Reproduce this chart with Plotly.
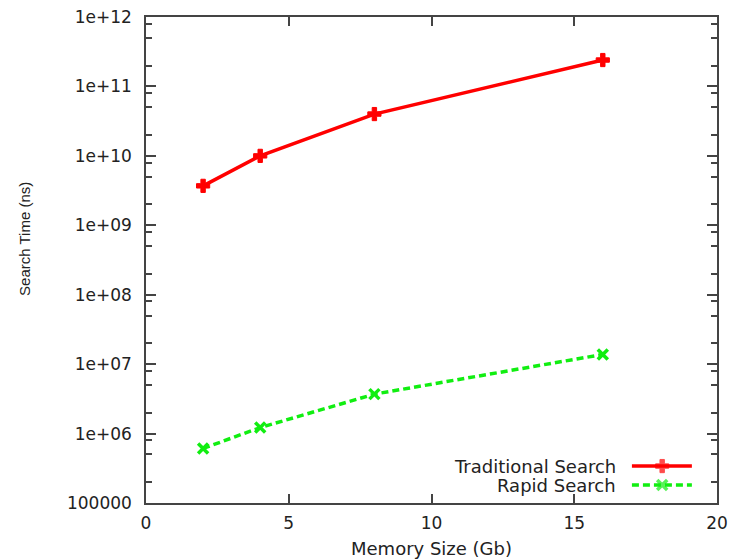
import plotly.graph_objects as go

# Memory size (Gb) vs. measured search time (ns)
memory_gb = [2, 4, 8, 16]
traditional_ns = [3.7e9, 1.0e10, 4.0e10, 2.4e11]
rapid_ns = [6.1e5, 1.22e6, 3.7e6, 1.38e7]

series_names = ["Traditional Search", "Rapid Search"]
x_ticks = [0, 5, 10, 15, 20]
y_ticks = [1e5, 1e6, 1e7, 1e8, 1e9, 1e10, 1e11, 1e12]
y_tick_text = ["100000", "1e+06", "1e+07", "1e+08", "1e+09", "1e+10", "1e+11", "1e+12"]
y_minor = [m * 10 ** e for e in range(5, 12) for m in (2, 5, 8)]

RED = "#ff0000"
GREEN = "#11ee11"
TXT = "#222222"
AX = "#444444"
FONT = "DejaVu Sans"

fig = go.Figure()

fig.add_trace(go.Scatter(
    x=memory_gb, y=traditional_ns, mode="lines+markers", name=series_names[0],
    line=dict(color=RED, width=3.5),
    marker=dict(symbol="cross", size=11, color=RED, line=dict(color=RED, width=1)),
    showlegend=False,
))
fig.add_trace(go.Scatter(
    x=memory_gb, y=rapid_ns, mode="lines+markers", name=series_names[1],
    line=dict(color=GREEN, width=3.5, dash="7px,4px"),
    marker=dict(symbol="x-thin", size=10, line=dict(color=GREEN, width=3.5)),
    showlegend=False,
))

# Key samples, drawn on an overlay axis spanning the plot area
key_x = [0.851, 0.904, 0.956]
key_y = [0.076, 0.037]
fig.add_trace(go.Scatter(
    x=key_x, y=[key_y[0]] * 3, xaxis="x2", yaxis="y2", mode="lines+markers",
    line=dict(color=RED, width=3.5),
    marker=dict(symbol="cross", size=[0, 11, 0], color=RED, line=dict(color=RED, width=1)),
    showlegend=False, hoverinfo="skip",
))
fig.add_trace(go.Scatter(
    x=key_x, y=[key_y[1]] * 3, xaxis="x2", yaxis="y2", mode="lines+markers",
    line=dict(color=GREEN, width=3.5, dash="7px,4px"),
    marker=dict(symbol="x-thin", size=[0, 10, 0], line=dict(color=GREEN, width=3.5)),
    showlegend=False, hoverinfo="skip",
))
for name, ky in zip(series_names, key_y):
    fig.add_annotation(
        x=0.826, y=ky, xref="paper", yref="paper", text=name, showarrow=False,
        xanchor="right", yanchor="middle", font=dict(family=FONT, size=18, color=TXT),
    )

# Axis titles
fig.add_annotation(
    x=0.5, y=-0.093, xref="paper", yref="paper", text="Memory Size (Gb)",
    showarrow=False, xanchor="center", yanchor="middle",
    font=dict(family=FONT, size=18, color=TXT),
)
fig.add_annotation(
    x=-0.214, y=0.543, xref="paper", yref="paper", text="Search Time (ns)",
    showarrow=False, textangle=-90, xanchor="center", yanchor="middle",
    font=dict(family="Liberation Sans", size=15, color=TXT),
)

fig.update_layout(
    width=732, height=560,
    margin=dict(l=146, r=15, t=17, b=57, autoexpand=False),
    paper_bgcolor="white", plot_bgcolor="white",
    font=dict(family=FONT, size=17, color=TXT),
    xaxis=dict(
        range=[0, 20], tickvals=x_ticks, ticktext=[str(v) for v in x_ticks],
        ticks="inside", ticklen=9, tickwidth=1.5, tickcolor=AX,
        showline=True, linecolor=AX, linewidth=1.5, mirror="ticks",
        showgrid=False, zeroline=False, ticklabelstandoff=4, automargin=False,
    ),
    yaxis=dict(
        type="log", range=[5, 12], tickvals=y_ticks, ticktext=y_tick_text,
        ticks="inside", ticklen=10, tickwidth=1.5, tickcolor=AX,
        showline=True, linecolor=AX, linewidth=1.5, mirror="ticks",
        showgrid=False, zeroline=False, ticklabelstandoff=9, automargin=False,
        minor=dict(tickmode="array", tickvals=y_minor, ticks="inside",
                   ticklen=6, tickwidth=1.5, tickcolor=AX, showgrid=False),
    ),
    xaxis2=dict(overlaying="x", range=[0, 1], visible=False),
    yaxis2=dict(overlaying="y", range=[0, 1], visible=False),
)

fig.write_html("out.html")
